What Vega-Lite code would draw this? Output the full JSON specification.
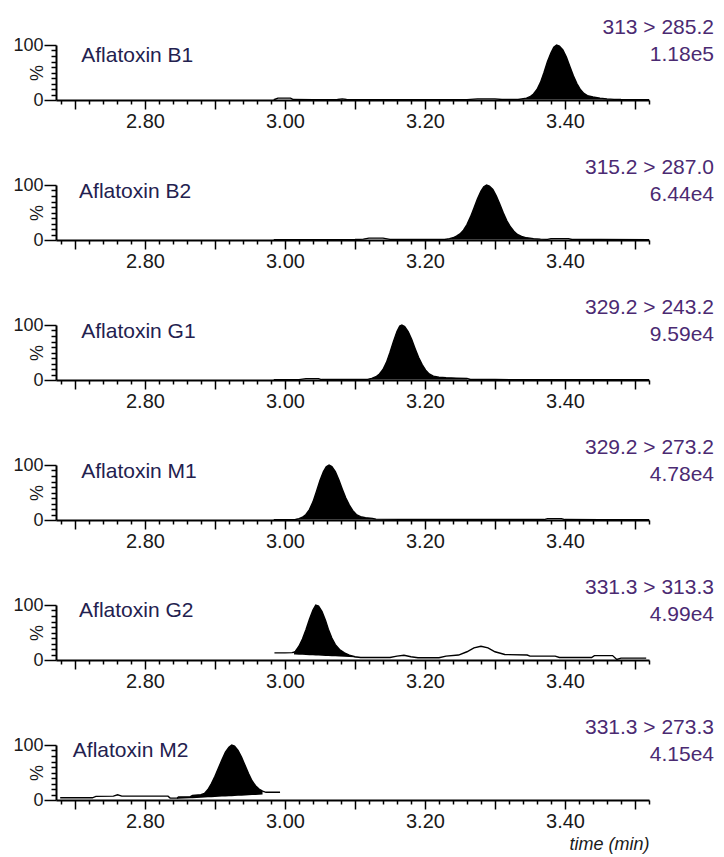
{
  "$schema": "https://vega.github.io/schema/vega-lite/v6.json",
  "background": "white",
  "padding": {"left": 12, "top": 17, "right": 5, "bottom": 3},
  "datasets": {
    "trace": [
      {"p":"B1","t":2.984,"v":0.5},{"p":"B1","t":2.99,"v":3.5},{"p":"B1","t":3.008,"v":3.5},{"p":"B1","t":3.012,"v":0.8},{"p":"B1","t":3.04,"v":0.6},{"p":"B1","t":3.075,"v":0.8},{"p":"B1","t":3.082,"v":2},{"p":"B1","t":3.088,"v":0.8},{"p":"B1","t":3.15,"v":0.5},{"p":"B1","t":3.2,"v":0.5},{"p":"B1","t":3.26,"v":0.6},{"p":"B1","t":3.275,"v":2},{"p":"B1","t":3.3,"v":2},{"p":"B1","t":3.31,"v":0.8},{"p":"B1","t":3.333,"v":0.8},{"p":"B1","t":3.338,"v":2},{"p":"B1","t":3.345,"v":3.5},{"p":"B1","t":3.35,"v":6},{"p":"B1","t":3.355,"v":11},{"p":"B1","t":3.36,"v":19},{"p":"B1","t":3.365,"v":32},{"p":"B1","t":3.37,"v":50},{"p":"B1","t":3.375,"v":70},{"p":"B1","t":3.38,"v":86},{"p":"B1","t":3.384,"v":96},{"p":"B1","t":3.388,"v":100},{"p":"B1","t":3.392,"v":98},{"p":"B1","t":3.397,"v":91},{"p":"B1","t":3.402,"v":78},{"p":"B1","t":3.407,"v":61},{"p":"B1","t":3.412,"v":44},{"p":"B1","t":3.417,"v":30},{"p":"B1","t":3.422,"v":19},{"p":"B1","t":3.427,"v":12},{"p":"B1","t":3.432,"v":8},{"p":"B1","t":3.44,"v":5.5},{"p":"B1","t":3.45,"v":3.5},{"p":"B1","t":3.46,"v":2},{"p":"B1","t":3.47,"v":1.2},{"p":"B1","t":3.48,"v":0.8},{"p":"B1","t":3.5,"v":0.6},{"p":"B1","t":3.52,"v":0.5},
      {"p":"B2","t":2.984,"v":0.5},{"p":"B2","t":3.0,"v":0.6},{"p":"B2","t":3.05,"v":0.6},{"p":"B2","t":3.1,"v":0.8},{"p":"B2","t":3.112,"v":1.5},{"p":"B2","t":3.12,"v":3.5},{"p":"B2","t":3.14,"v":3.5},{"p":"B2","t":3.15,"v":1.2},{"p":"B2","t":3.2,"v":0.8},{"p":"B2","t":3.228,"v":1},{"p":"B2","t":3.235,"v":2.5},{"p":"B2","t":3.24,"v":4},{"p":"B2","t":3.245,"v":7},{"p":"B2","t":3.25,"v":11},{"p":"B2","t":3.255,"v":18},{"p":"B2","t":3.26,"v":28},{"p":"B2","t":3.265,"v":42},{"p":"B2","t":3.27,"v":58},{"p":"B2","t":3.275,"v":75},{"p":"B2","t":3.28,"v":89},{"p":"B2","t":3.284,"v":97},{"p":"B2","t":3.288,"v":100},{"p":"B2","t":3.292,"v":98},{"p":"B2","t":3.297,"v":92},{"p":"B2","t":3.302,"v":80},{"p":"B2","t":3.307,"v":65},{"p":"B2","t":3.312,"v":49},{"p":"B2","t":3.317,"v":35},{"p":"B2","t":3.322,"v":24},{"p":"B2","t":3.327,"v":16},{"p":"B2","t":3.332,"v":10},{"p":"B2","t":3.338,"v":6.5},{"p":"B2","t":3.345,"v":4},{"p":"B2","t":3.355,"v":2.5},{"p":"B2","t":3.365,"v":1.5},{"p":"B2","t":3.375,"v":1.2},{"p":"B2","t":3.38,"v":2.5},{"p":"B2","t":3.405,"v":2.5},{"p":"B2","t":3.41,"v":1},{"p":"B2","t":3.45,"v":0.8},{"p":"B2","t":3.52,"v":0.6},
      {"p":"G1","t":2.984,"v":0.5},{"p":"G1","t":3.02,"v":0.6},{"p":"G1","t":3.03,"v":2.5},{"p":"G1","t":3.048,"v":2.5},{"p":"G1","t":3.052,"v":0.8},{"p":"G1","t":3.1,"v":0.8},{"p":"G1","t":3.118,"v":1.2},{"p":"G1","t":3.124,"v":3},{"p":"G1","t":3.13,"v":6},{"p":"G1","t":3.135,"v":11},{"p":"G1","t":3.14,"v":19},{"p":"G1","t":3.145,"v":32},{"p":"G1","t":3.15,"v":50},{"p":"G1","t":3.155,"v":70},{"p":"G1","t":3.16,"v":88},{"p":"G1","t":3.164,"v":98},{"p":"G1","t":3.167,"v":100},{"p":"G1","t":3.171,"v":97},{"p":"G1","t":3.176,"v":88},{"p":"G1","t":3.181,"v":74},{"p":"G1","t":3.186,"v":57},{"p":"G1","t":3.191,"v":41},{"p":"G1","t":3.196,"v":28},{"p":"G1","t":3.201,"v":18},{"p":"G1","t":3.206,"v":11},{"p":"G1","t":3.212,"v":7},{"p":"G1","t":3.22,"v":5},{"p":"G1","t":3.23,"v":4},{"p":"G1","t":3.245,"v":3.5},{"p":"G1","t":3.26,"v":3},{"p":"G1","t":3.265,"v":1},{"p":"G1","t":3.3,"v":0.8},{"p":"G1","t":3.4,"v":0.6},{"p":"G1","t":3.52,"v":0.6},
      {"p":"M1","t":2.984,"v":0.5},{"p":"M1","t":3.0,"v":0.6},{"p":"M1","t":3.015,"v":1},{"p":"M1","t":3.02,"v":2.5},{"p":"M1","t":3.025,"v":5},{"p":"M1","t":3.03,"v":10},{"p":"M1","t":3.035,"v":19},{"p":"M1","t":3.04,"v":33},{"p":"M1","t":3.045,"v":52},{"p":"M1","t":3.05,"v":72},{"p":"M1","t":3.055,"v":88},{"p":"M1","t":3.059,"v":97},{"p":"M1","t":3.063,"v":100},{"p":"M1","t":3.067,"v":97},{"p":"M1","t":3.072,"v":88},{"p":"M1","t":3.077,"v":73},{"p":"M1","t":3.082,"v":56},{"p":"M1","t":3.087,"v":40},{"p":"M1","t":3.092,"v":27},{"p":"M1","t":3.097,"v":17},{"p":"M1","t":3.102,"v":10},{"p":"M1","t":3.108,"v":6},{"p":"M1","t":3.115,"v":4},{"p":"M1","t":3.125,"v":3},{"p":"M1","t":3.13,"v":1.5},{"p":"M1","t":3.2,"v":0.8},{"p":"M1","t":3.3,"v":0.8},{"p":"M1","t":3.37,"v":0.8},{"p":"M1","t":3.375,"v":2.5},{"p":"M1","t":3.395,"v":2.5},{"p":"M1","t":3.4,"v":0.8},{"p":"M1","t":3.45,"v":0.6},{"p":"M1","t":3.52,"v":0.6},
      {"p":"G2","t":2.985,"v":13},{"p":"G2","t":3.0,"v":13},{"p":"G2","t":3.01,"v":13.5},{"p":"G2","t":3.013,"v":14},{"p":"G2","t":3.015,"v":16},{"p":"G2","t":3.02,"v":25},{"p":"G2","t":3.025,"v":38},{"p":"G2","t":3.03,"v":55},{"p":"G2","t":3.035,"v":74},{"p":"G2","t":3.04,"v":91},{"p":"G2","t":3.044,"v":100},{"p":"G2","t":3.048,"v":98},{"p":"G2","t":3.053,"v":88},{"p":"G2","t":3.058,"v":72},{"p":"G2","t":3.062,"v":56},{"p":"G2","t":3.067,"v":40},{"p":"G2","t":3.072,"v":28},{"p":"G2","t":3.078,"v":19},{"p":"G2","t":3.085,"v":13},{"p":"G2","t":3.092,"v":9},{"p":"G2","t":3.1,"v":6},{"p":"G2","t":3.108,"v":4.5},{"p":"G2","t":3.15,"v":4.5},{"p":"G2","t":3.16,"v":7},{"p":"G2","t":3.17,"v":8.5},{"p":"G2","t":3.18,"v":6},{"p":"G2","t":3.19,"v":4},{"p":"G2","t":3.22,"v":4},{"p":"G2","t":3.23,"v":7},{"p":"G2","t":3.248,"v":9},{"p":"G2","t":3.26,"v":15},{"p":"G2","t":3.27,"v":22},{"p":"G2","t":3.28,"v":25},{"p":"G2","t":3.29,"v":22},{"p":"G2","t":3.3,"v":15},{"p":"G2","t":3.314,"v":10},{"p":"G2","t":3.346,"v":9},{"p":"G2","t":3.35,"v":7},{"p":"G2","t":3.386,"v":7},{"p":"G2","t":3.392,"v":4.5},{"p":"G2","t":3.438,"v":4.5},{"p":"G2","t":3.442,"v":8},{"p":"G2","t":3.468,"v":8},{"p":"G2","t":3.474,"v":1},{"p":"G2","t":3.48,"v":3.5},{"p":"G2","t":3.516,"v":3.5},
      {"p":"M2","t":2.679,"v":4},{"p":"M2","t":2.725,"v":4},{"p":"M2","t":2.73,"v":6.5},{"p":"M2","t":2.755,"v":7},{"p":"M2","t":2.761,"v":9.5},{"p":"M2","t":2.767,"v":7},{"p":"M2","t":2.833,"v":7},{"p":"M2","t":2.836,"v":3.5},{"p":"M2","t":2.846,"v":3.5},{"p":"M2","t":2.848,"v":5.5},{"p":"M2","t":2.865,"v":6},{"p":"M2","t":2.868,"v":8.5},{"p":"M2","t":2.88,"v":9.5},{"p":"M2","t":2.885,"v":12},{"p":"M2","t":2.89,"v":19},{"p":"M2","t":2.895,"v":30},{"p":"M2","t":2.9,"v":43},{"p":"M2","t":2.905,"v":58},{"p":"M2","t":2.91,"v":73},{"p":"M2","t":2.915,"v":87},{"p":"M2","t":2.92,"v":96},{"p":"M2","t":2.924,"v":100},{"p":"M2","t":2.928,"v":98},{"p":"M2","t":2.933,"v":90},{"p":"M2","t":2.938,"v":78},{"p":"M2","t":2.943,"v":63},{"p":"M2","t":2.948,"v":48},{"p":"M2","t":2.953,"v":35},{"p":"M2","t":2.958,"v":26},{"p":"M2","t":2.963,"v":20},{"p":"M2","t":2.968,"v":16},{"p":"M2","t":2.973,"v":14},{"p":"M2","t":2.993,"v":14}
    ],
    "peak": [
      {"p":"B1","t":3.333,"v":0.8,"b":0.8},{"p":"B1","t":3.338,"v":2,"b":0.8},{"p":"B1","t":3.345,"v":3.5,"b":0.8},{"p":"B1","t":3.35,"v":6,"b":0.8},{"p":"B1","t":3.355,"v":11,"b":0.8},{"p":"B1","t":3.36,"v":19,"b":0.8},{"p":"B1","t":3.365,"v":32,"b":0.8},{"p":"B1","t":3.37,"v":50,"b":0.8},{"p":"B1","t":3.375,"v":70,"b":0.8},{"p":"B1","t":3.38,"v":86,"b":0.8},{"p":"B1","t":3.384,"v":96,"b":0.8},{"p":"B1","t":3.388,"v":100,"b":0.8},{"p":"B1","t":3.392,"v":98,"b":0.8},{"p":"B1","t":3.397,"v":91,"b":0.8},{"p":"B1","t":3.402,"v":78,"b":0.8},{"p":"B1","t":3.407,"v":61,"b":0.8},{"p":"B1","t":3.412,"v":44,"b":0.8},{"p":"B1","t":3.417,"v":30,"b":0.8},{"p":"B1","t":3.422,"v":19,"b":0.8},{"p":"B1","t":3.427,"v":12,"b":0.8},{"p":"B1","t":3.432,"v":8,"b":0.8},{"p":"B1","t":3.44,"v":5.5,"b":0.8},{"p":"B1","t":3.45,"v":3.5,"b":0.8},{"p":"B1","t":3.46,"v":2,"b":0.8},{"p":"B1","t":3.47,"v":1.2,"b":0.8},
      {"p":"B2","t":3.228,"v":1,"b":1},{"p":"B2","t":3.235,"v":2.5,"b":1},{"p":"B2","t":3.24,"v":4,"b":1},{"p":"B2","t":3.245,"v":7,"b":1},{"p":"B2","t":3.25,"v":11,"b":1},{"p":"B2","t":3.255,"v":18,"b":1},{"p":"B2","t":3.26,"v":28,"b":1},{"p":"B2","t":3.265,"v":42,"b":1},{"p":"B2","t":3.27,"v":58,"b":1},{"p":"B2","t":3.275,"v":75,"b":1},{"p":"B2","t":3.28,"v":89,"b":1},{"p":"B2","t":3.284,"v":97,"b":1},{"p":"B2","t":3.288,"v":100,"b":1},{"p":"B2","t":3.292,"v":98,"b":1},{"p":"B2","t":3.297,"v":92,"b":1},{"p":"B2","t":3.302,"v":80,"b":1},{"p":"B2","t":3.307,"v":65,"b":1},{"p":"B2","t":3.312,"v":49,"b":1},{"p":"B2","t":3.317,"v":35,"b":1},{"p":"B2","t":3.322,"v":24,"b":1},{"p":"B2","t":3.327,"v":16,"b":1},{"p":"B2","t":3.332,"v":10,"b":1},{"p":"B2","t":3.338,"v":6.5,"b":1},{"p":"B2","t":3.345,"v":4,"b":1},{"p":"B2","t":3.355,"v":2.5,"b":1},{"p":"B2","t":3.365,"v":1.5,"b":1},
      {"p":"G1","t":3.118,"v":1.2,"b":1},{"p":"G1","t":3.124,"v":3,"b":1},{"p":"G1","t":3.13,"v":6,"b":1},{"p":"G1","t":3.135,"v":11,"b":1},{"p":"G1","t":3.14,"v":19,"b":1},{"p":"G1","t":3.145,"v":32,"b":1},{"p":"G1","t":3.15,"v":50,"b":1},{"p":"G1","t":3.155,"v":70,"b":1},{"p":"G1","t":3.16,"v":88,"b":1},{"p":"G1","t":3.164,"v":98,"b":1},{"p":"G1","t":3.167,"v":100,"b":1},{"p":"G1","t":3.171,"v":97,"b":1},{"p":"G1","t":3.176,"v":88,"b":1},{"p":"G1","t":3.181,"v":74,"b":1},{"p":"G1","t":3.186,"v":57,"b":1},{"p":"G1","t":3.191,"v":41,"b":1},{"p":"G1","t":3.196,"v":28,"b":1},{"p":"G1","t":3.201,"v":18,"b":1},{"p":"G1","t":3.206,"v":11,"b":1},{"p":"G1","t":3.212,"v":7,"b":1},{"p":"G1","t":3.22,"v":5,"b":1},{"p":"G1","t":3.23,"v":4,"b":1},{"p":"G1","t":3.245,"v":3.5,"b":1},{"p":"G1","t":3.26,"v":3,"b":1},
      {"p":"M1","t":3.015,"v":1,"b":1},{"p":"M1","t":3.02,"v":2.5,"b":1},{"p":"M1","t":3.025,"v":5,"b":1},{"p":"M1","t":3.03,"v":10,"b":1},{"p":"M1","t":3.035,"v":19,"b":1},{"p":"M1","t":3.04,"v":33,"b":1},{"p":"M1","t":3.045,"v":52,"b":1},{"p":"M1","t":3.05,"v":72,"b":1},{"p":"M1","t":3.055,"v":88,"b":1},{"p":"M1","t":3.059,"v":97,"b":1},{"p":"M1","t":3.063,"v":100,"b":1},{"p":"M1","t":3.067,"v":97,"b":1},{"p":"M1","t":3.072,"v":88,"b":1},{"p":"M1","t":3.077,"v":73,"b":1},{"p":"M1","t":3.082,"v":56,"b":1},{"p":"M1","t":3.087,"v":40,"b":1},{"p":"M1","t":3.092,"v":27,"b":1},{"p":"M1","t":3.097,"v":17,"b":1},{"p":"M1","t":3.102,"v":10,"b":1},{"p":"M1","t":3.108,"v":6,"b":1},{"p":"M1","t":3.115,"v":4,"b":1},{"p":"M1","t":3.125,"v":3,"b":1},{"p":"M1","t":3.13,"v":1.5,"b":1},
      {"p":"G2","t":3.013,"v":14,"b":10},{"p":"G2","t":3.015,"v":16,"b":10},{"p":"G2","t":3.02,"v":25,"b":9.7},{"p":"G2","t":3.025,"v":38,"b":9.4},{"p":"G2","t":3.03,"v":55,"b":9.1},{"p":"G2","t":3.035,"v":74,"b":8.8},{"p":"G2","t":3.04,"v":91,"b":8.5},{"p":"G2","t":3.044,"v":100,"b":8.3},{"p":"G2","t":3.048,"v":98,"b":8.1},{"p":"G2","t":3.053,"v":88,"b":7.8},{"p":"G2","t":3.058,"v":72,"b":7.5},{"p":"G2","t":3.062,"v":56,"b":7.3},{"p":"G2","t":3.067,"v":40,"b":7},{"p":"G2","t":3.072,"v":28,"b":6.7},{"p":"G2","t":3.078,"v":19,"b":6.3},{"p":"G2","t":3.085,"v":13,"b":5.9},{"p":"G2","t":3.092,"v":9,"b":5.5},{"p":"G2","t":3.1,"v":6,"b":5},{"p":"G2","t":3.108,"v":4.5,"b":4.5},
      {"p":"M2","t":2.846,"v":3.5,"b":2},{"p":"M2","t":2.848,"v":5.5,"b":2.1},{"p":"M2","t":2.865,"v":6,"b":3.2},{"p":"M2","t":2.868,"v":8.5,"b":3.4},{"p":"M2","t":2.88,"v":9.5,"b":4.2},{"p":"M2","t":2.885,"v":12,"b":4.5},{"p":"M2","t":2.89,"v":19,"b":4.8},{"p":"M2","t":2.895,"v":30,"b":5.2},{"p":"M2","t":2.9,"v":43,"b":5.5},{"p":"M2","t":2.905,"v":58,"b":5.8},{"p":"M2","t":2.91,"v":73,"b":6.2},{"p":"M2","t":2.915,"v":87,"b":6.5},{"p":"M2","t":2.92,"v":96,"b":6.8},{"p":"M2","t":2.924,"v":100,"b":7},{"p":"M2","t":2.928,"v":98,"b":7.3},{"p":"M2","t":2.933,"v":90,"b":7.6},{"p":"M2","t":2.938,"v":78,"b":7.9},{"p":"M2","t":2.943,"v":63,"b":8.3},{"p":"M2","t":2.948,"v":48,"b":8.6},{"p":"M2","t":2.953,"v":35,"b":8.9},{"p":"M2","t":2.958,"v":26,"b":9.2},{"p":"M2","t":2.963,"v":20,"b":9.6},{"p":"M2","t":2.968,"v":16,"b":10}
    ],
    "labels": [
      {"p":"B1","t":2.709,"v":80,"name":"Aflatoxin B1"},
      {"p":"B2","t":2.706,"v":87,"name":"Aflatoxin B2"},
      {"p":"G1","t":2.709,"v":87,"name":"Aflatoxin G1"},
      {"p":"M1","t":2.709,"v":88,"name":"Aflatoxin M1"},
      {"p":"G2","t":2.706,"v":90,"name":"Aflatoxin G2"},
      {"p":"M2","t":2.697,"v":90,"name":"Aflatoxin M2"}
    ]
  },
  "vconcat": [
    {
      "width": 593, "height": 55,
      "title": {"text": ["313 > 285.2", "1.18e5"]},
      "encoding": {
        "x": {"field": "t", "type": "quantitative", "scale": {"domain": [2.673, 3.52], "nice": false, "zero": false},
          "axis": {"title": null, "values": [2.68,2.7,2.72,2.74,2.76,2.78,2.8,2.82,2.84,2.86,2.88,2.9,2.92,2.94,2.96,2.98,3,3.02,3.04,3.06,3.08,3.1,3.12,3.14,3.16,3.18,3.2,3.22,3.24,3.26,3.28,3.3,3.32,3.34,3.36,3.38,3.4,3.42,3.44,3.46,3.48,3.5,3.52], "format": ".2f", "labelExpr": "abs(datum.value*5-round(datum.value*5))<0.001 ? datum.label : ''", "tickSize": {"condition": {"test": "abs(datum.value*10-round(datum.value*10))<0.001", "value": 9}, "value": 4}, "labelFontSize": 20, "labelPadding": 2, "labelOverlap": false, "labelFlush": false}},
        "y": {"field": "v", "type": "quantitative", "scale": {"domain": [0, 100], "nice": false},
          "axis": {"title": "%", "values": [0,10,20,30,40,50,60,70,80,90,100], "labelExpr": "datum.value==0||datum.value==100 ? datum.label : ''", "tickSize": {"condition": {"test": "datum.value==0||datum.value==100", "value": 12}, "value": 5}, "labelFontSize": 18, "labelPadding": 1, "labelOverlap": false, "labelFlush": false, "titleFontSize": 18, "titleFontWeight": "normal", "titlePadding": -34}}
      },
      "layer": [
        {"data": {"name": "peak"}, "transform": [{"filter": "datum.p=='B1'"}], "mark": {"type": "area", "color": "black"}, "encoding": {"y2": {"field": "b"}}},
        {"data": {"name": "trace"}, "transform": [{"filter": "datum.p=='B1'"}], "mark": {"type": "line", "color": "black", "strokeWidth": 1.4}},
        {"data": {"name": "labels"}, "transform": [{"filter": "datum.p=='B1'"}], "mark": {"type": "text", "align": "left", "baseline": "middle", "fontSize": 21, "color": "#23214f"}, "encoding": {"text": {"field": "name"}}}
      ]
    },
    {
      "width": 593, "height": 55,
      "title": {"text": ["315.2 > 287.0", "6.44e4"]},
      "encoding": {
        "x": {"field": "t", "type": "quantitative", "scale": {"domain": [2.673, 3.52], "nice": false, "zero": false},
          "axis": {"title": null, "values": [2.68,2.7,2.72,2.74,2.76,2.78,2.8,2.82,2.84,2.86,2.88,2.9,2.92,2.94,2.96,2.98,3,3.02,3.04,3.06,3.08,3.1,3.12,3.14,3.16,3.18,3.2,3.22,3.24,3.26,3.28,3.3,3.32,3.34,3.36,3.38,3.4,3.42,3.44,3.46,3.48,3.5,3.52], "format": ".2f", "labelExpr": "abs(datum.value*5-round(datum.value*5))<0.001 ? datum.label : ''", "tickSize": {"condition": {"test": "abs(datum.value*10-round(datum.value*10))<0.001", "value": 9}, "value": 4}, "labelFontSize": 20, "labelPadding": 2, "labelOverlap": false, "labelFlush": false}},
        "y": {"field": "v", "type": "quantitative", "scale": {"domain": [0, 100], "nice": false},
          "axis": {"title": "%", "values": [0,10,20,30,40,50,60,70,80,90,100], "labelExpr": "datum.value==0||datum.value==100 ? datum.label : ''", "tickSize": {"condition": {"test": "datum.value==0||datum.value==100", "value": 12}, "value": 5}, "labelFontSize": 18, "labelPadding": 1, "labelOverlap": false, "labelFlush": false, "titleFontSize": 18, "titleFontWeight": "normal", "titlePadding": -34}}
      },
      "layer": [
        {"data": {"name": "peak"}, "transform": [{"filter": "datum.p=='B2'"}], "mark": {"type": "area", "color": "black"}, "encoding": {"y2": {"field": "b"}}},
        {"data": {"name": "trace"}, "transform": [{"filter": "datum.p=='B2'"}], "mark": {"type": "line", "color": "black", "strokeWidth": 1.4}},
        {"data": {"name": "labels"}, "transform": [{"filter": "datum.p=='B2'"}], "mark": {"type": "text", "align": "left", "baseline": "middle", "fontSize": 21, "color": "#23214f"}, "encoding": {"text": {"field": "name"}}}
      ]
    },
    {
      "width": 593, "height": 55,
      "title": {"text": ["329.2 > 243.2", "9.59e4"]},
      "encoding": {
        "x": {"field": "t", "type": "quantitative", "scale": {"domain": [2.673, 3.52], "nice": false, "zero": false},
          "axis": {"title": null, "values": [2.68,2.7,2.72,2.74,2.76,2.78,2.8,2.82,2.84,2.86,2.88,2.9,2.92,2.94,2.96,2.98,3,3.02,3.04,3.06,3.08,3.1,3.12,3.14,3.16,3.18,3.2,3.22,3.24,3.26,3.28,3.3,3.32,3.34,3.36,3.38,3.4,3.42,3.44,3.46,3.48,3.5,3.52], "format": ".2f", "labelExpr": "abs(datum.value*5-round(datum.value*5))<0.001 ? datum.label : ''", "tickSize": {"condition": {"test": "abs(datum.value*10-round(datum.value*10))<0.001", "value": 9}, "value": 4}, "labelFontSize": 20, "labelPadding": 2, "labelOverlap": false, "labelFlush": false}},
        "y": {"field": "v", "type": "quantitative", "scale": {"domain": [0, 100], "nice": false},
          "axis": {"title": "%", "values": [0,10,20,30,40,50,60,70,80,90,100], "labelExpr": "datum.value==0||datum.value==100 ? datum.label : ''", "tickSize": {"condition": {"test": "datum.value==0||datum.value==100", "value": 12}, "value": 5}, "labelFontSize": 18, "labelPadding": 1, "labelOverlap": false, "labelFlush": false, "titleFontSize": 18, "titleFontWeight": "normal", "titlePadding": -34}}
      },
      "layer": [
        {"data": {"name": "peak"}, "transform": [{"filter": "datum.p=='G1'"}], "mark": {"type": "area", "color": "black"}, "encoding": {"y2": {"field": "b"}}},
        {"data": {"name": "trace"}, "transform": [{"filter": "datum.p=='G1'"}], "mark": {"type": "line", "color": "black", "strokeWidth": 1.4}},
        {"data": {"name": "labels"}, "transform": [{"filter": "datum.p=='G1'"}], "mark": {"type": "text", "align": "left", "baseline": "middle", "fontSize": 21, "color": "#23214f"}, "encoding": {"text": {"field": "name"}}}
      ]
    },
    {
      "width": 593, "height": 55,
      "title": {"text": ["329.2 > 273.2", "4.78e4"]},
      "encoding": {
        "x": {"field": "t", "type": "quantitative", "scale": {"domain": [2.673, 3.52], "nice": false, "zero": false},
          "axis": {"title": null, "values": [2.68,2.7,2.72,2.74,2.76,2.78,2.8,2.82,2.84,2.86,2.88,2.9,2.92,2.94,2.96,2.98,3,3.02,3.04,3.06,3.08,3.1,3.12,3.14,3.16,3.18,3.2,3.22,3.24,3.26,3.28,3.3,3.32,3.34,3.36,3.38,3.4,3.42,3.44,3.46,3.48,3.5,3.52], "format": ".2f", "labelExpr": "abs(datum.value*5-round(datum.value*5))<0.001 ? datum.label : ''", "tickSize": {"condition": {"test": "abs(datum.value*10-round(datum.value*10))<0.001", "value": 9}, "value": 4}, "labelFontSize": 20, "labelPadding": 2, "labelOverlap": false, "labelFlush": false}},
        "y": {"field": "v", "type": "quantitative", "scale": {"domain": [0, 100], "nice": false},
          "axis": {"title": "%", "values": [0,10,20,30,40,50,60,70,80,90,100], "labelExpr": "datum.value==0||datum.value==100 ? datum.label : ''", "tickSize": {"condition": {"test": "datum.value==0||datum.value==100", "value": 12}, "value": 5}, "labelFontSize": 18, "labelPadding": 1, "labelOverlap": false, "labelFlush": false, "titleFontSize": 18, "titleFontWeight": "normal", "titlePadding": -34}}
      },
      "layer": [
        {"data": {"name": "peak"}, "transform": [{"filter": "datum.p=='M1'"}], "mark": {"type": "area", "color": "black"}, "encoding": {"y2": {"field": "b"}}},
        {"data": {"name": "trace"}, "transform": [{"filter": "datum.p=='M1'"}], "mark": {"type": "line", "color": "black", "strokeWidth": 1.4}},
        {"data": {"name": "labels"}, "transform": [{"filter": "datum.p=='M1'"}], "mark": {"type": "text", "align": "left", "baseline": "middle", "fontSize": 21, "color": "#23214f"}, "encoding": {"text": {"field": "name"}}}
      ]
    },
    {
      "width": 593, "height": 55,
      "title": {"text": ["331.3 > 313.3", "4.99e4"]},
      "encoding": {
        "x": {"field": "t", "type": "quantitative", "scale": {"domain": [2.673, 3.52], "nice": false, "zero": false},
          "axis": {"title": null, "values": [2.68,2.7,2.72,2.74,2.76,2.78,2.8,2.82,2.84,2.86,2.88,2.9,2.92,2.94,2.96,2.98,3,3.02,3.04,3.06,3.08,3.1,3.12,3.14,3.16,3.18,3.2,3.22,3.24,3.26,3.28,3.3,3.32,3.34,3.36,3.38,3.4,3.42,3.44,3.46,3.48,3.5,3.52], "format": ".2f", "labelExpr": "abs(datum.value*5-round(datum.value*5))<0.001 ? datum.label : ''", "tickSize": {"condition": {"test": "abs(datum.value*10-round(datum.value*10))<0.001", "value": 9}, "value": 4}, "labelFontSize": 20, "labelPadding": 2, "labelOverlap": false, "labelFlush": false}},
        "y": {"field": "v", "type": "quantitative", "scale": {"domain": [0, 100], "nice": false},
          "axis": {"title": "%", "values": [0,10,20,30,40,50,60,70,80,90,100], "labelExpr": "datum.value==0||datum.value==100 ? datum.label : ''", "tickSize": {"condition": {"test": "datum.value==0||datum.value==100", "value": 12}, "value": 5}, "labelFontSize": 18, "labelPadding": 1, "labelOverlap": false, "labelFlush": false, "titleFontSize": 18, "titleFontWeight": "normal", "titlePadding": -34}}
      },
      "layer": [
        {"data": {"name": "peak"}, "transform": [{"filter": "datum.p=='G2'"}], "mark": {"type": "area", "color": "black"}, "encoding": {"y2": {"field": "b"}}},
        {"data": {"name": "trace"}, "transform": [{"filter": "datum.p=='G2'"}], "mark": {"type": "line", "color": "black", "strokeWidth": 1.4}},
        {"data": {"name": "labels"}, "transform": [{"filter": "datum.p=='G2'"}], "mark": {"type": "text", "align": "left", "baseline": "middle", "fontSize": 21, "color": "#23214f"}, "encoding": {"text": {"field": "name"}}}
      ]
    },
    {
      "width": 593, "height": 55,
      "title": {"text": ["331.3 > 273.3", "4.15e4"]},
      "encoding": {
        "x": {"field": "t", "type": "quantitative", "scale": {"domain": [2.673, 3.52], "nice": false, "zero": false},
          "axis": {"title": "time (min)", "titleAnchor": "end", "titleFontStyle": "italic", "titleFontWeight": "normal", "titleFontSize": 18, "titlePadding": 4, "values": [2.68,2.7,2.72,2.74,2.76,2.78,2.8,2.82,2.84,2.86,2.88,2.9,2.92,2.94,2.96,2.98,3,3.02,3.04,3.06,3.08,3.1,3.12,3.14,3.16,3.18,3.2,3.22,3.24,3.26,3.28,3.3,3.32,3.34,3.36,3.38,3.4,3.42,3.44,3.46,3.48,3.5,3.52], "format": ".2f", "labelExpr": "abs(datum.value*5-round(datum.value*5))<0.001 ? datum.label : ''", "tickSize": {"condition": {"test": "abs(datum.value*10-round(datum.value*10))<0.001", "value": 9}, "value": 4}, "labelFontSize": 20, "labelPadding": 2, "labelOverlap": false, "labelFlush": false}},
        "y": {"field": "v", "type": "quantitative", "scale": {"domain": [0, 100], "nice": false},
          "axis": {"title": "%", "values": [0,10,20,30,40,50,60,70,80,90,100], "labelExpr": "datum.value==0||datum.value==100 ? datum.label : ''", "tickSize": {"condition": {"test": "datum.value==0||datum.value==100", "value": 12}, "value": 5}, "labelFontSize": 18, "labelPadding": 1, "labelOverlap": false, "labelFlush": false, "titleFontSize": 18, "titleFontWeight": "normal", "titlePadding": -34}}
      },
      "layer": [
        {"data": {"name": "peak"}, "transform": [{"filter": "datum.p=='M2'"}], "mark": {"type": "area", "color": "black"}, "encoding": {"y2": {"field": "b"}}},
        {"data": {"name": "trace"}, "transform": [{"filter": "datum.p=='M2'"}], "mark": {"type": "line", "color": "black", "strokeWidth": 1.4}},
        {"data": {"name": "labels"}, "transform": [{"filter": "datum.p=='M2'"}], "mark": {"type": "text", "align": "left", "baseline": "middle", "fontSize": 21, "color": "#23214f"}, "encoding": {"text": {"field": "name"}}}
      ]
    }
  ],
  "spacing": 85,
  "bounds": "flush",
  "config": {
    "font": "Liberation Sans",
    "view": {"stroke": null},
    "axis": {"domainColor": "black", "domainWidth": 2, "tickColor": "black", "tickWidth": 1.5, "labelColor": "#1a1a1a", "titleColor": "#1a1a1a", "grid": false},
    "title": {"anchor": "end", "frame": "group", "fontSize": 21, "fontWeight": "normal", "color": "#4b2a72", "lineHeight": 27, "baseline": "top", "offset": 0, "dx": 65, "dy": 33}
  }
}
